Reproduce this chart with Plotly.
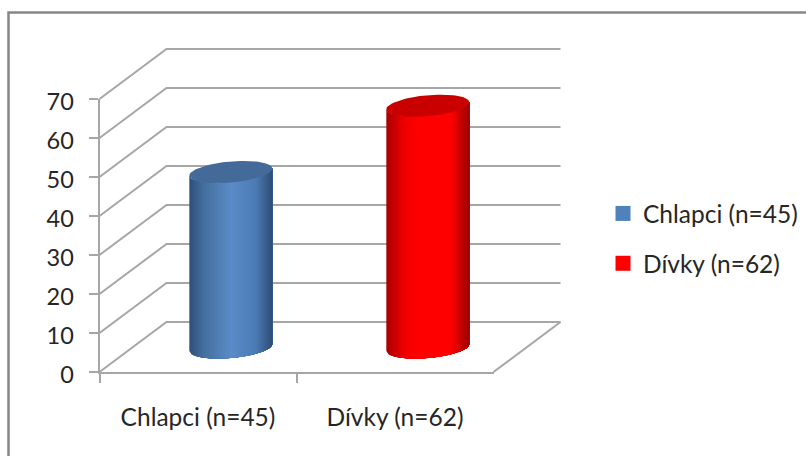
import numpy as np
import plotly.graph_objects as go

# Chart data
categories = ["Chlapci (n=45)", "Dívky (n=62)"]
values = [45, 62]
value_ticks = [0, 10, 20, 30, 40, 50, 60, 70]

# Colour stops across each cylinder: edge, centre, edge
side_stops = [
    [(0.0, "#2f4f7a"), (0.18, "#44709f"), (0.5, "#5b8bc8"), (0.8, "#4c7bb4"), (1.0, "#2e4c74")],
    [(0.0, "#a80000"), (0.22, "#f00000"), (0.4, "#ff0000"), (0.78, "#ff0000"), (1.0, "#990000")],
]
cap_colors = ["#436a98", "#c80000"]
swatch_colors = ["#4f81bd", "#ff0000"]

FONT = "Lato"
GRID = "#a6a6a6"
TEXT = "#262626"

W, H = 806, 456
# Front frame of the value axis inside the figure, in pixels
FRONT_LEFT, FRONT_RIGHT = 99.5, 493.5
FRONT_BOTTOM, FRONT_TOP = 372.0, 99.0
UNIT_X = (FRONT_RIGHT - FRONT_LEFT) / len(categories)   # px per category
UNIT_Y = (FRONT_BOTTOM - FRONT_TOP) / max(value_ticks)  # px per value unit

# Oblique offset of the back wall, in category and value units
DEPTH_X = 67.0 / UNIT_X
DEPTH_Y = 50.0 / UNIT_Y

# Cylinder shape in the same units
RADIUS_X = 41.5 / UNIT_X
RADIUS_Y = 10.5 / UNIT_Y
TILT_Y = 3.5 / UNIT_Y
DEPTH_AT_BAR = 0.49
STRIPS = 42


def hex_rgb(c):
    return np.array([int(c[i:i + 2], 16) for i in (1, 3, 5)], dtype=float)


def blend(stops, t):
    for (a, ca), (b, cb) in zip(stops, stops[1:]):
        if t <= b:
            k = (t - a) / (b - a)
            r, g, bl = hex_rgb(ca) * (1 - k) + hex_rgb(cb) * k
            return f"rgb({r:.0f},{g:.0f},{bl:.0f})"
    return stops[-1][1]


fig = go.Figure()

# Full-figure axes carry the oblique drawing; value and category units are kept
x_range = [-FRONT_LEFT / UNIT_X, (W - FRONT_LEFT) / UNIT_X]
y_range = [-(H - FRONT_BOTTOM) / UNIT_Y, FRONT_BOTTOM / UNIT_Y]


def poly(xs, ys, color):
    fig.add_trace(go.Scatter(
        x=xs, y=ys, mode="lines", fill="toself", fillcolor=color,
        line=dict(width=0), hoverinfo="skip", showlegend=False,
    ))


def seg(xs, ys):
    fig.add_trace(go.Scatter(
        x=xs, y=ys, mode="lines", line=dict(color=GRID, width=2),
        hoverinfo="skip", showlegend=False,
    ))


# Grid: one bent line per tick, from the axis up the side wall and along the back wall
n = len(categories)
for v in value_ticks:
    seg([0, DEPTH_X, n + DEPTH_X], [v, v + DEPTH_Y, v + DEPTH_Y])
# Right-hand edge of the floor
seg([n, n + DEPTH_X], [0, DEPTH_Y])

# Cylinders: each strip runs to the right edge, so the next one paints over it without seams
for i, v in enumerate(values):
    cx = i + 0.5 + DEPTH_AT_BAR * DEPTH_X
    base = DEPTH_AT_BAR * DEPTH_Y
    edges = np.linspace(-1, 1, STRIPS + 1)
    for j in range(STRIPS):
        u = np.linspace(edges[j], 1, 40)
        xs = cx + RADIUS_X * u
        slant = TILT_Y * u
        bulge = RADIUS_Y * np.sqrt(np.clip(1 - u ** 2, 0, 1))
        low = base + slant - bulge
        high = base + v + slant - bulge
        poly(np.r_[xs, xs[::-1], xs[0]], np.r_[low, high[::-1], low[0]],
             blend(side_stops[i], (j + 0.5) / STRIPS))
    t = np.linspace(0, 2 * np.pi, 90)
    poly(cx + RADIUS_X * np.cos(t),
         base + v + TILT_Y * np.cos(t) + RADIUS_Y * np.sin(t),
         cap_colors[i])

# Axes along the front of the chart
fig.add_trace(go.Scatter(
    x=categories, y=[0, 0], xaxis="x2", yaxis="y2", mode="markers",
    marker=dict(opacity=0), hoverinfo="skip", showlegend=False,
))

# Legend keys
for name, color in zip(categories, swatch_colors):
    fig.add_trace(go.Scatter(
        x=[0], y=[-1000], mode="markers", name=name, legendgroup=name,
        marker=dict(symbol="square", size=15, color=color),
    ))

fig.update_layout(
    width=W, height=H, autosize=False,
    margin=dict(l=0, r=0, t=0, b=0, autoexpand=False),
    paper_bgcolor="white", plot_bgcolor="rgba(0,0,0,0)",
    font=dict(family=FONT, size=23.5, color=TEXT),
    xaxis=dict(range=x_range, visible=False, domain=[0, 1], fixedrange=True, automargin=False),
    yaxis=dict(range=y_range, visible=False, domain=[0, 1], fixedrange=True, automargin=False),
    xaxis2=dict(
        type="category", categoryorder="array", categoryarray=categories,
        domain=[FRONT_LEFT / W, FRONT_RIGHT / W], anchor="y2", automargin=False,
        range=[-0.5, n - 0.5], tickson="boundaries", ticks="outside", ticklen=9,
        tickwidth=2, tickcolor=GRID, showline=True, linecolor=GRID, linewidth=2,
        showgrid=False, ticklabelstandoff=23, fixedrange=True,
        tickfont=dict(size=24.5),
    ),
    yaxis2=dict(
        domain=[(H - FRONT_BOTTOM) / H, (H - FRONT_TOP) / H], anchor="x2", automargin=False,
        range=[0, max(value_ticks)], tickvals=value_ticks, ticks="outside", ticklen=9,
        tickwidth=2, tickcolor=GRID, showline=True, linecolor=GRID, linewidth=2,
        showgrid=False, zeroline=False, ticklabelstandoff=10, ticklabelshift=3,
        fixedrange=True,
    ),
    legend=dict(
        x=603 / W, y=(H - 191) / H, xanchor="left", yanchor="top",
        bgcolor="rgba(0,0,0,0)", tracegroupgap=15, itemsizing="trace",
        itemclick=False, itemdoubleclick=False, font=dict(size=24.5),
    ),
    # Chart frame
    shapes=[dict(type="rect", xref="paper", yref="paper", layer="below",
                 x0=8.5 / W, x1=810 / W, y0=-10 / H, y1=(H - 12.5) / H,
                 line=dict(color="#868686", width=2.5))],
)

fig.write_html("out.html")
